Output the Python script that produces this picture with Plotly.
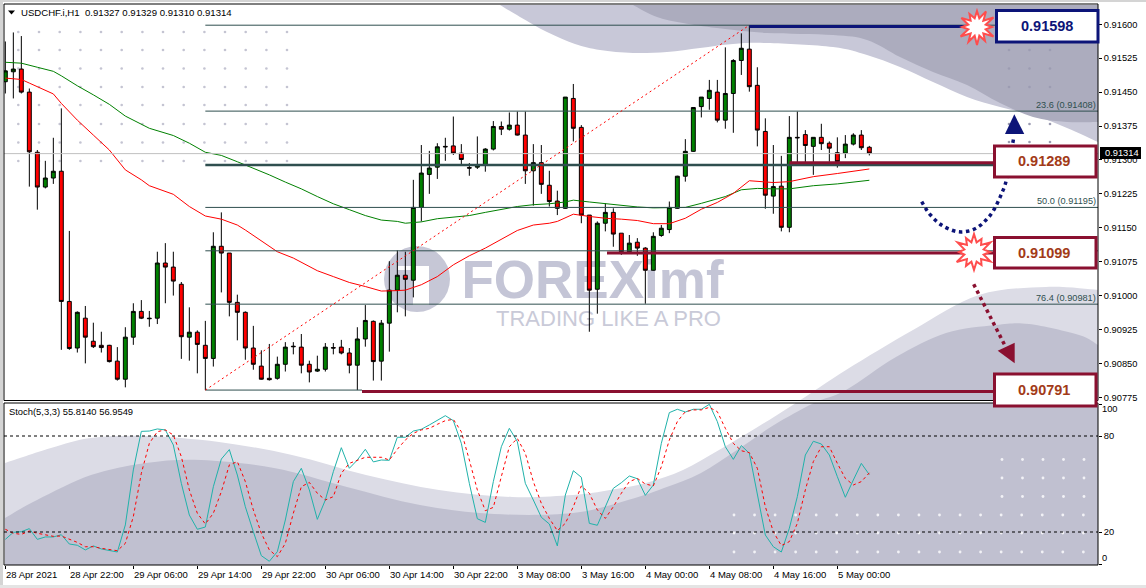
import math
import plotly.graph_objects as go

W, H = 1146, 588

# ---------- data ----------
opens = [0.91473,0.91495,0.91501,0.91450,0.91317,0.91240,0.91260,0.91275,0.90987,0.90884,0.90950,0.90899,0.90890,0.90890,0.90855,0.90815,0.90908,0.90965,0.90950,0.90950,0.91072,0.91063,0.91025,0.90908,0.90919,0.90890,0.90861,0.91109,0.91094,0.90985,0.90963,0.90884,0.90844,0.90817,0.90817,0.90848,0.90888,0.90886,0.90848,0.90833,0.90837,0.90885,0.90886,0.90873,0.90846,0.90904,0.90943,0.90855,0.90939,0.91012,0.91045,0.91034,0.91195,0.91268,0.91284,0.91330,0.91331,0.91315,0.91283,0.91284,0.91290,0.91324,0.91374,0.91368,0.91377,0.91355,0.91276,0.91294,0.91244,0.91209,0.91193,0.91436,0.91372,0.91178,0.91014,0.91160,0.91184,0.91138,0.91097,0.91118,0.91105,0.91056,0.91133,0.91146,0.91193,0.91264,0.91319,0.91418,0.91436,0.91450,0.91388,0.91447,0.91520,0.91545,0.91465,0.91363,0.91220,0.91242,0.91151,0.91350,0.91356,0.91330,0.91350,0.91337,0.91316,0.91315,0.91335,0.91355,0.91328]
highs = [0.91562,0.91582,0.91574,0.91458,0.91322,0.91298,0.91349,0.91414,0.91143,0.90965,0.90977,0.90940,0.90920,0.90891,0.90886,0.90930,0.90983,0.90990,0.90966,0.91097,0.91116,0.91097,0.91030,0.90974,0.90923,0.90944,0.91140,0.91184,0.91094,0.91002,0.90965,0.90933,0.90879,0.90893,0.90865,0.90897,0.90897,0.90915,0.90856,0.90867,0.90895,0.90895,0.90902,0.90884,0.90930,0.90979,0.90945,0.90946,0.91076,0.91100,0.91097,0.91256,0.91333,0.91320,0.91337,0.91349,0.91396,0.91335,0.91293,0.91352,0.91326,0.91386,0.91385,0.91405,0.91407,0.91407,0.91335,0.91333,0.91276,0.91232,0.91439,0.91468,0.91377,0.91178,0.91164,0.91204,0.91193,0.91138,0.91134,0.91127,0.91107,0.91140,0.91156,0.91208,0.91265,0.91346,0.91416,0.91439,0.91477,0.91477,0.91549,0.91523,0.91580,0.91598,0.91505,0.91392,0.91333,0.91309,0.91397,0.91407,0.91366,0.91350,0.91380,0.91341,0.91350,0.91355,0.91359,0.91366,0.91331]
lows = [0.91447,0.91436,0.91447,0.91241,0.91190,0.91237,0.91247,0.90880,0.90880,0.90874,0.90850,0.90884,0.90874,0.90852,0.90812,0.90797,0.90891,0.90948,0.90931,0.90937,0.90983,0.91000,0.90860,0.90856,0.90828,0.90791,0.90843,0.91007,0.90954,0.90901,0.90858,0.90836,0.90814,0.90812,0.90814,0.90832,0.90870,0.90828,0.90808,0.90831,0.90832,0.90870,0.90870,0.90828,0.90791,0.90887,0.90812,0.90812,0.90876,0.90963,0.90954,0.90996,0.91164,0.91225,0.91258,0.91298,0.91311,0.91291,0.91265,0.91280,0.91274,0.91321,0.91355,0.91365,0.91354,0.91247,0.91199,0.91225,0.91197,0.91178,0.91192,0.91341,0.91160,0.90920,0.90960,0.91142,0.91108,0.91090,0.91092,0.91088,0.90982,0.91055,0.91130,0.91138,0.91192,0.91252,0.91318,0.91394,0.91411,0.91383,0.91369,0.91360,0.91488,0.91451,0.91330,0.91192,0.91181,0.91142,0.91140,0.91293,0.91293,0.91267,0.91322,0.91296,0.91283,0.91304,0.91332,0.91322,0.91310]
closes = [0.91497,0.91501,0.91450,0.91318,0.91240,0.91260,0.91275,0.90987,0.90883,0.90963,0.90908,0.90887,0.90885,0.90854,0.90815,0.90908,0.90965,0.90950,0.90949,0.91072,0.91063,0.91032,0.90909,0.90919,0.90892,0.90861,0.91109,0.91094,0.90985,0.90963,0.90884,0.90848,0.90815,0.90814,0.90848,0.90886,0.90887,0.90846,0.90831,0.90837,0.90886,0.90884,0.90873,0.90846,0.90904,0.90945,0.90854,0.90939,0.91012,0.91045,0.91036,0.91195,0.91271,0.91282,0.91329,0.91329,0.91315,0.91301,0.91282,0.91288,0.91324,0.91374,0.91368,0.91377,0.91355,0.91276,0.91294,0.91246,0.91208,0.91193,0.91439,0.91370,0.91178,0.91012,0.91160,0.91184,0.91136,0.91097,0.91116,0.91105,0.91056,0.91131,0.91149,0.91195,0.91264,0.91319,0.91416,0.91439,0.91454,0.91388,0.91447,0.91520,0.91547,0.91462,0.91366,0.91222,0.91241,0.91151,0.91350,0.91349,0.91332,0.91350,0.91336,0.91326,0.91296,0.91335,0.91355,0.91327,0.91315]

ma_green_bars = [0,2,4,6,7,9,11,13,15,17,18,21,23,25,27,29,31,33,35,37,39,41,43,45,47,49,50,52,54,56,58,60,62,64,66,68,70,71,73,75,77,79,81,83,85,87,89,90,92,94,96,98,101,104,108]
ma_green = [0.91516,0.91514,0.91505,0.91496,0.91486,0.91464,0.91444,0.91423,0.91397,0.91380,0.91370,0.91354,0.91337,0.91317,0.91310,0.91296,0.91282,0.91267,0.91251,0.91236,0.91219,0.91203,0.91190,0.91177,0.91167,0.91164,0.91160,0.91163,0.91170,0.91173,0.91177,0.91184,0.91191,0.91197,0.91201,0.91203,0.91207,0.91211,0.91207,0.91203,0.91199,0.91196,0.91194,0.91194,0.91195,0.91204,0.91214,0.91219,0.91234,0.91237,0.91236,0.91236,0.91243,0.91247,0.91255]
ma_red_bars = [0,2,3,5,6,7,9,11,13,15,17,18,21,23,25,27,29,30,32,34,36,39,41,43,45,47,49,50,52,54,56,58,60,62,64,66,68,69,71,73,75,77,79,81,83,85,87,89,91,93,95,96,98,101,104,108]
ma_red = [0.91481,0.91478,0.91470,0.91455,0.91446,0.91425,0.91388,0.91355,0.91322,0.91278,0.91256,0.91243,0.91224,0.91197,0.91176,0.91169,0.91156,0.91145,0.91120,0.91097,0.91083,0.91055,0.91042,0.91029,0.91020,0.91010,0.91011,0.91012,0.91024,0.91042,0.91068,0.91088,0.91105,0.91125,0.91144,0.91156,0.91160,0.91164,0.91180,0.91175,0.91171,0.91169,0.91166,0.91159,0.91159,0.91171,0.91191,0.91206,0.91226,0.91254,0.91252,0.91250,0.91252,0.91263,0.91270,0.91280]

stoch_main = [15.4,19.8,20.2,22.1,15.4,16.9,16.9,18.3,12.5,11.7,8.8,11.3,9.4,8.3,7.5,24.4,58.8,82.9,83.1,84.4,83.8,74.4,50.4,30.6,21.7,23.1,48.3,65.6,71.5,55.6,35.8,20.2,5.2,1.7,7.7,27.5,51.5,59.8,46.3,27.9,40.0,57.7,72.7,59.8,65.0,71.7,63.8,65.0,64.8,79.2,79.2,83.1,84.2,86.9,90.0,92.7,89.6,75.4,50.4,28.3,26.0,51.5,73.3,84.8,76.5,50.4,40.0,29.2,25.0,11.3,43.1,58.3,54.2,25.4,24.2,35.8,47.3,50.8,55.0,53.3,42.9,49.4,75.4,94.6,96.7,95.0,96.7,96.7,99.8,89.0,73.3,65.4,74.0,69.2,43.1,18.1,10.8,7.5,22.3,42.1,68.1,76.7,75.0,68.1,54.6,41.7,52.5,62.9,55.81]
stoch_signal = [21.7,19.2,18.5,20.6,19.2,18.1,17.3,17.5,15.6,13.5,10.8,10.8,9.8,9.0,8.3,12.9,29.6,56.7,75.4,82.7,83.8,80.6,67.1,46.3,31.7,25.0,31.7,45.2,61.9,64.0,51.5,33.8,19.2,8.8,4.6,12.9,31.7,48.3,51.0,44.2,40.0,42.1,56.7,62.9,65.0,66.7,66.7,66.7,65.0,71.7,77.5,81.7,83.8,84.8,87.3,89.6,90.4,82.7,65.0,46.3,33.3,35.4,54.6,73.3,78.5,69.2,51.5,37.9,28.5,20.8,25.4,35.8,48.8,44.2,33.8,28.5,35.8,44.2,51.5,53.5,50.0,48.8,60.8,77.5,89.0,95.2,96.3,96.3,97.9,95.2,84.8,75.4,70.8,69.6,59.8,35.8,20.2,11.5,14.0,25.4,46.3,64.0,73.3,73.3,62.9,53.5,49.4,51.5,56.95]

time_labels = ["28 Apr 2021","28 Apr 22:00","29 Apr 06:00","29 Apr 14:00","29 Apr 22:00","30 Apr 06:00","30 Apr 14:00","30 Apr 22:00","3 May 08:00","3 May 16:00","4 May 00:00","4 May 08:00","4 May 16:00","5 May 00:00"]
time_bars = [0,8,16,24,32,40,48,56,64,72,80,88,96,104]
price_ticks = [0.916,0.91525,0.9145,0.91375,0.913,0.91225,0.9115,0.91075,0.91,0.90925,0.9085,0.90775]
stoch_ticks = [100,80,20,0]
stoch_tick_text = ["","80","20",""]

fib_levels = [0.91598,0.91408,0.91289,0.91195,0.91099,0.90981,0.90791]
fib_names = ["","23.6 (0.91408)","","50.0 (0.91195)","","76.4 (0.90981)",""]
fib_start_bar, fib_end_bar = 25, 93
last_price = 0.91314
res_level, mid_level, sup_level, low_level = 0.91595, 0.91294, 0.91094, 0.90788
box_labels = ["0.91598","0.91289","0.91099","0.90791"]

# ---------- layout mapping ----------
L, R, T1, B1, T2, B2 = 4, 1098, 5, 400.5, 403, 565
bar_px0, bar_step = 5.33, 8.0
px_916, px_per_price = 24.3, 45212.0
x_range = [(L - bar_px0) / bar_step, (R - bar_px0) / bar_step]
bar_of = lambda px: (px - bar_px0) / bar_step
y2_range = [0.916 - (B1 - px_916) / px_per_price, 0.916 + (px_916 - T1) / px_per_price]
y3_range = [(564 - B2) / 1.6, (564 - T2) / 1.6]
X = lambda x: x / W
Y = lambda y: 1 - y / H
FONT = "Liberation Sans"

fig = go.Figure()

def smooth(points, closed_tail=None):
    d = f"M {X(points[0][0]):.5f},{Y(points[0][1]):.5f}"
    n = len(points)
    for i in range(n - 1):
        p0 = points[max(i - 1, 0)]
        p1 = points[i]
        p2 = points[i + 1]
        p3 = points[min(i + 2, n - 1)]
        c1 = (p1[0] + (p2[0] - p0[0]) / 6, p1[1] + (p2[1] - p0[1]) / 6)
        c2 = (p2[0] - (p3[0] - p1[0]) / 6, p2[1] - (p3[1] - p1[1]) / 6)
        d += f" C {X(c1[0]):.5f},{Y(c1[1]):.5f} {X(c2[0]):.5f},{Y(c2[1]):.5f} {X(p2[0]):.5f},{Y(p2[1]):.5f}"
    for p in closed_tail or []:
        d += f" L {X(p[0]):.5f},{Y(p[1]):.5f}"
    if closed_tail:
        d += " Z"
    return d

def poly(points):
    return "M " + " L ".join(f"{X(a):.5f},{Y(b):.5f}" for a, b in points) + " Z"

shapes = []
def add_path(d, fill=None, line=None, width=0, dash=None, layer="below"):
    s = dict(type="path", path=d, xref="paper", yref="paper", layer=layer,
             line=dict(color=line or "rgba(0,0,0,0)", width=width))
    if dash:
        s["line"]["dash"] = dash
    if fill:
        s["fillcolor"] = fill
    shapes.append(s)

def add_rect(x0, y0, x1, y1, fill=None, line=None, width=0, layer="below"):
    s = dict(type="rect", xref="paper", yref="paper", x0=X(x0), x1=X(x1), y0=Y(y1), y1=Y(y0), layer=layer,
             line=dict(color=line or "rgba(0,0,0,0)", width=width))
    if fill:
        s["fillcolor"] = fill
    shapes.append(s)

# background waves
bottom_light = [(5,463),(51,448),(91,438),(146,436),(219,442),(292,455),(366,475),(439,490),(512,497),(573,495),(610,490),(646,483),(683,470),(719,450),(756,428),(796,403),(846,370),(913,330),(979,295),(1046,287),(1098,290)]
bottom_dark = [(5,518),(37,500),(91,475),(146,463),(201,460),(274,468),(347,487),(420,505),(494,514),(573,513),(628,500),(664,488),(701,473),(737,450),(774,425),(814,403),(846,390),(896,357),(946,333),(996,325),(1029,324),(1079,335),(1098,345)]
top_light = [(500,5),(520,17),(547,32),(575,44),(600,50),(633,53),(667,52),(700,48),(733,44),(767,43),(833,47),(867,55),(900,67),(933,82),(967,97),(1000,107),(1033,115),(1067,128),(1098,142)]
top_dark = [(633,5),(657,17),(683,23),(717,28),(767,33),(833,35),(867,40),(900,57),(933,72),(967,85),(1000,103),(1033,117),(1067,122),(1098,122)]
add_path(smooth(top_light, [(1098,5)]), fill="#c8c8d8")
add_path(smooth(top_dark, [(1098,5)]), fill="#acacbe")
add_path(smooth(bottom_light, [(1098,565),(5,565)]), fill="#dcdce6")
add_path(smooth(bottom_dark, [(1098,565),(5,565)]), fill="#c0c0d0")

# watermark logo
logo_c = (417, 279)
shapes.append(dict(type="circle", xref="paper", yref="paper", layer="below",
                   x0=X(logo_c[0]-33), x1=X(logo_c[0]+33), y0=Y(logo_c[1]+33), y1=Y(logo_c[1]-33),
                   fillcolor="#c6c7d6", line=dict(width=0)))
add_rect(413, 266, 429, 305, fill="#ffffff")
add_rect(398, 266, 412, 270, fill="#ffffff")

# panels' edge strips
add_rect(0, 0, W, 2, fill="#d4d4d4", layer="above")
add_rect(0, 0, 3, H, fill="#d4d4d4", layer="above")
add_rect(0, 585, W, H, fill="#e4e4e4", layer="above")
add_rect(L-0.5, 400.5, R, 403, fill="#ffffff", layer="above")
add_rect(L, T1-1, R, B1, line="#000000", width=1, layer="above")
add_rect(L, T2, R, B2, line="#000000", width=1, layer="above")

# drawn objects on the top layer
navy, maroon, rust = "#0c1478", "#8a1030", "#a23a18"
star_red = "#ff4d4d"
def star(cx, cy, radii, inner):
    pts = []
    n = len(radii)
    for k, r in enumerate(radii):
        a = 2 * math.pi * k / n - math.pi / 2
        pts.append((cx + r * math.cos(a), cy + r * math.sin(a)))
        a2 = a + math.pi / n
        pts.append((cx + inner * math.cos(a2), cy + inner * math.sin(a2)))
    return poly(pts)

add_path(smooth([(921.7,201.7),(926,209),(930.5,215),(937,221.7),(943,226),(950,229.5),(957.5,231.7),(965,231.7),(973,229.7),(980,225.7),(986,220),(991,214.3),(995.3,207.3),(998.7,200.3),(1002,192.7),(1004.7,186),(1006.7,178),(1009,165),(1014,136)]),
         line=navy, width=3.5, dash="3.5px,3.6px", layer="above")
add_path(poly([(1005,134),(1024.3,134),(1014.3,114.3)]), fill=navy, layer="above")
add_path(f"M {X(973.7):.5f},{Y(284.3):.5f} L {X(1004.3):.5f},{Y(344.3):.5f}", line=maroon, width=3.5, dash="3.5px,3.6px", layer="above")
add_path(poly([(997.7,350.7),(1014.7,342.7),(1014.7,363.3)]), fill=maroon, layer="above")
add_path(star(977, 27, [16,18,19,15,19,16,18,17,19,15,18,15], 9), fill="#ffffff", line=star_red, width=2, layer="above")
add_path(star(974, 252, [18,15,19,16,19,15,18,16,20,15,19,16], 10), fill="#ffffff", line=star_red, width=2, layer="above")
box_geo = [(996.5,10.5,1098,42,navy),(994.5,146,1096,177,maroon),(994.5,237.5,1096,268,maroon),(994.5,374,1096,406,maroon)]
for x0, y0, x1, y1, c in box_geo:
    add_rect(x0, y0, x1, y1, fill="#ffffff", line=c, width=3, layer="above")
add_rect(1100, 147, 1141, 159, fill="#000000", layer="above")
add_path(poly([(8,10.5),(15,10.5),(11.5,14.5)]), fill="#000000", layer="above")

# ---------- traces, bottom subplot first ----------
dot_xs = [18.3,39,59.7,80.4,101,121.7,142.4,163,183.7,204.4,225,245.7,266.4,287]
dot_ys = [32,50,68.5,87,105,124,142.5,161]
fig.add_trace(go.Scatter(x=[a for a in dot_xs for b in dot_ys], y=[b for a in dot_xs for b in dot_ys],
                         mode="markers", marker=dict(size=2.6, color="#c4c4d2"), xaxis="x", yaxis="y", hoverinfo="skip"))
dot_xs_r = [1009,1029.5,1050]
dot_ys_r = [50,68.5,87,124,142]
fig.add_trace(go.Scatter(x=[a for a in dot_xs_r for b in dot_ys_r], y=[b for a in dot_xs_r for b in dot_ys_r],
                         mode="markers", marker=dict(size=2.6, color="#9c9cb2"), xaxis="x", yaxis="y", hoverinfo="skip"))
wd_xs = [734+20.55*k for k in range(18)]
wd_ys = [515,533,552]
wd_xs2 = [1002,1022.5,1043,1063.5,1084]
wd_ys2 = [459.5,478,496.5]
fig.add_trace(go.Scatter(x=[a for a in wd_xs for b in wd_ys]+[a for a in wd_xs2 for b in wd_ys2],
                         y=[b for a in wd_xs for b in wd_ys]+[b for a in wd_xs2 for b in wd_ys2],
                         mode="markers", marker=dict(size=2.8, color="#f2f2f6"), xaxis="x", yaxis="y", hoverinfo="skip"))
fig.add_trace(go.Scatter(x=[592.5], y=[285], mode="text", text=["<b>FOREXimf</b>"], textposition="middle center",
                         textfont=dict(family=FONT, size=53, color="#c4c5d6"), xaxis="x", yaxis="y", hoverinfo="skip"))
fig.add_trace(go.Scatter(x=[608.5], y=[320.5], mode="text", text=["TRADING LIKE A PRO"], textposition="middle center",
                         textfont=dict(family=FONT, size=22, color="#c9cad8"), xaxis="x", yaxis="y", hoverinfo="skip"))

bars = list(range(len(closes)))
fig.add_trace(go.Candlestick(x=bars, open=opens, high=highs, low=lows, close=closes, xaxis="x2", yaxis="y2",
                             whiskerwidth=0, hoverinfo="skip",
                             increasing=dict(fillcolor="#008000", line=dict(color="#000000", width=1)),
                             decreasing=dict(fillcolor="#ff0000", line=dict(color="#000000", width=1))))
fig.add_trace(go.Scatter(x=ma_green_bars, y=ma_green, mode="lines", line=dict(color="#008000", width=1), xaxis="x2", yaxis="y2", hoverinfo="skip"))
fig.add_trace(go.Scatter(x=ma_red_bars, y=ma_red, mode="lines", line=dict(color="#ff0000", width=1), xaxis="x2", yaxis="y2", hoverinfo="skip"))
fig.add_trace(go.Scatter(x=[x_range[0], x_range[1]], y=[last_price, last_price], mode="lines", line=dict(color="#c0c0c0", width=1), xaxis="x2", yaxis="y2", hoverinfo="skip"))

for lv in fib_levels:
    if lv == fib_levels[-1]:
        xs, w = [fib_start_bar, bar_of(362)], 1
    elif lv == fib_levels[2]:
        xs, w = [fib_start_bar, bar_of(1000)], 2.5
    else:
        xs, w = [fib_start_bar, x_range[1]], 1
    fig.add_trace(go.Scatter(x=xs, y=[lv, lv], mode="lines", line=dict(color="#2f4f4f", width=w), xaxis="x2", yaxis="y2", hoverinfo="skip"))
fig.add_trace(go.Scatter(x=[fib_start_bar, fib_end_bar], y=[fib_levels[-1], fib_levels[0]], mode="lines",
                         line=dict(color="#ff0000", width=1, dash="2px,3px"), xaxis="x2", yaxis="y2", hoverinfo="skip"))
for lv, start, end, col in [(res_level, 93, bar_of(965), navy), (mid_level, 98, bar_of(995), maroon),
                            (sup_level, bar_of(607), bar_of(995), maroon), (low_level, bar_of(362), bar_of(995), maroon)]:
    fig.add_trace(go.Scatter(x=[start, end], y=[lv, lv], mode="lines", line=dict(color=col, width=3), xaxis="x2", yaxis="y2", hoverinfo="skip"))

fig.add_trace(go.Scatter(x=bars, y=stoch_main, mode="lines", line=dict(color="#20b2aa", width=1), xaxis="x3", yaxis="y3", hoverinfo="skip"))
fig.add_trace(go.Scatter(x=bars, y=stoch_signal, mode="lines", line=dict(color="#ff0000", width=1, dash="3px,3px"), xaxis="x3", yaxis="y3", hoverinfo="skip"))
for lv in [80, 20]:
    fig.add_trace(go.Scatter(x=x_range, y=[lv, lv], mode="lines", line=dict(color="#000000", width=1, dash="3px,3px"), xaxis="x3", yaxis="y3", hoverinfo="skip"))

# ---------- text ----------
ann = []
def text(x, y, s, size=9.5, color="#000000", anchor="left", bold=False, bg=None):
    a = dict(xref="paper", yref="paper", x=X(x), y=Y(y), text=f"<b>{s}</b>" if bold else s, showarrow=False,
             xanchor=anchor, yanchor="middle", font=dict(family=FONT, size=size, color=color), borderpad=0)
    if bg:
        a["bgcolor"] = bg
    ann.append(a)

text(20, 12.5, "USDCHF.i,H1&nbsp;&nbsp;0.91327 0.91329 0.91310 0.91314", size=9.6)
text(8, 411.5, "Stoch(5,3,3) 55.8140 56.9549", size=9.4)
for b, s in zip(time_bars, time_labels):
    text(bar_px0 + bar_step * b - 0.7, 574.5, s, size=9.5)
for lv, s in zip(fib_levels, fib_names):
    if s:
        text(1097, px_916 + (0.916 - lv) * px_per_price - 6, s, size=9.2, color="#2f4f4f", anchor="right")
text(1104, 153, f"{last_price:.5f}", size=9.3, color="#ffffff")
text(1101, 409, "100", size=9.3)
text(1101, 558, "0", size=9.3)
centers = [(1047, 25.5), (1044, 161), (1044, 252.5), (1044, 389.5)]
colors = [navy, rust, rust, rust]
for (cx, cy), s, c in zip(centers, box_labels, colors):
    text(cx, cy, s, size=14.5, color=c, anchor="center", bold=True)

# ---------- layout ----------
axis_off = dict(visible=False, fixedrange=True)
fig.update_layout(
    width=W, height=H, margin=dict(l=0, r=0, t=0, b=0, pad=0, autoexpand=False), autosize=False,
    paper_bgcolor="#ffffff", plot_bgcolor="rgba(0,0,0,0)", showlegend=False, hovermode=False,
    xaxis=dict(domain=[0, 1], range=[0, W], anchor="y", **axis_off),
    yaxis=dict(domain=[0, 1], range=[H, 0], anchor="x", **axis_off),
    xaxis2=dict(domain=[X(L), X(R)], range=x_range, anchor="y2", showticklabels=False, showgrid=False, zeroline=False,
                rangeslider=dict(visible=False), fixedrange=True, ticks=""),
    yaxis2=dict(domain=[Y(B1), Y(T1)], range=y2_range, anchor="x2", side="right", showgrid=False, zeroline=False, fixedrange=True,
                tickmode="array", tickvals=price_ticks, ticktext=[f"{v:.5f}" for v in price_ticks], ticks="outside", ticklen=3,
                tickcolor="#000000", tickfont=dict(family=FONT, size=9.3, color="#000000")),
    xaxis3=dict(domain=[X(L), X(R)], range=x_range, anchor="y3", showticklabels=False, showgrid=False, zeroline=False, fixedrange=True,
                tickmode="array", tickvals=time_bars, ticks="outside", ticklen=3, tickcolor="#000000"),
    yaxis3=dict(domain=[Y(B2), Y(T2)], range=y3_range, anchor="x3", side="right", showgrid=False, zeroline=False, fixedrange=True,
                tickmode="array", tickvals=stoch_ticks, ticktext=stoch_tick_text, ticks="outside", ticklen=3,
                tickcolor="#000000", tickfont=dict(family=FONT, size=9.3, color="#000000")),
    shapes=shapes, annotations=ann,
)

fig.write_html("out.html", config=dict(displayModeBar=False),
               post_script="document.body.style.margin='0';document.body.style.overflow='hidden';")
